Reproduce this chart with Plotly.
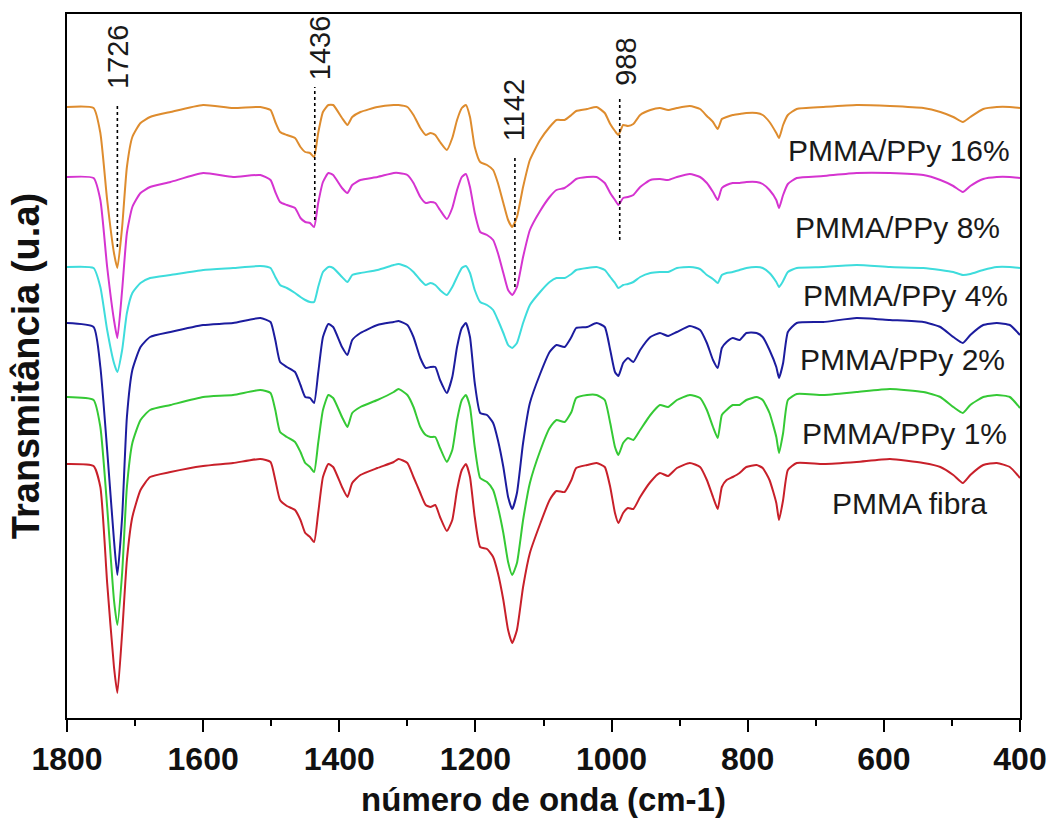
import plotly.graph_objects as go

# Wavenumber grid (cm-1) at which the spectra were read
wavenumber = [1800, 1761, 1751, 1741, 1731, 1726, 1719, 1712, 1704, 1692, 1678, 1648, 1600, 1556, 1516,
              1501, 1494, 1487, 1477, 1465, 1457, 1450, 1443, 1437, 1431, 1424, 1416, 1409, 1396, 1388,
              1381, 1369, 1344, 1320, 1313, 1300, 1291, 1281, 1273, 1266, 1259, 1252, 1242, 1234, 1227,
              1220, 1214, 1208, 1201, 1193, 1183, 1174, 1167, 1159, 1152, 1146, 1139, 1130, 1120, 1105,
              1091, 1081, 1069, 1059, 1052, 1036, 1022, 1010, 1002, 995, 990, 983, 976, 968, 958,
              943, 929, 917, 904, 885, 870, 860, 851, 844, 838, 831, 822, 812, 802, 787,
              778, 768, 758, 754, 748, 741, 728, 689, 640, 591, 542, 517, 498, 484, 473,
              454, 434, 415, 400]

# Depth readings (a.u., larger = lower transmittance); converted to transmittance below
depth_pmma_fibra = [464, 466, 487, 583, 667, 693, 633, 560, 517, 490, 477, 472, 466, 463, 459,
                    462, 480, 500, 506, 510, 520, 533, 537, 542, 513, 477, 464, 467, 487, 497,
                    483, 475, 468, 462, 459, 463, 477, 493, 505, 507, 505, 517, 531, 520, 490,
                    470, 464, 477, 517, 547, 549, 557, 573, 600, 630, 643, 630, 587, 553, 524,
                    500, 491, 492, 480, 468, 465, 463, 467, 487, 513, 523, 513, 508, 509, 497,
                    482, 473, 476, 468, 463, 467, 480, 497, 509, 487, 480, 477, 473, 467, 465,
                    468, 480, 503, 520, 500, 470, 463, 464, 462, 459, 463, 467, 475, 483, 475,
                    465, 463, 467, 478]

depth_ppy_1 = [397, 400, 427, 507, 600, 625, 573, 487, 443, 420, 410, 405, 397, 395, 390,
               393, 410, 432, 437, 442, 452, 463, 467, 472, 443, 410, 395, 398, 417, 427,
               413, 407, 400, 392, 389, 395, 407, 427, 435, 437, 437, 448, 462, 450, 420,
               400, 395, 407, 447, 478, 482, 490, 507, 533, 562, 575, 563, 520, 483, 451,
               428, 420, 422, 412, 398, 395, 395, 400, 423, 447, 455, 443, 438, 440, 430,
               415, 405, 407, 400, 395, 398, 410, 427, 438, 415, 410, 405, 405, 400, 397,
               400, 413, 437, 453, 433, 400, 394, 395, 392, 389, 392, 397, 407, 413, 405,
               397, 395, 397, 408]

depth_ppy_2 = [323, 327, 367, 450, 540, 575, 517, 417, 370, 347, 337, 332, 325, 323, 318,
               322, 340, 362, 367, 372, 385, 397, 398, 403, 373, 337, 324, 327, 347, 355,
               340, 333, 325, 322, 321, 325, 337, 358, 368, 367, 367, 380, 393, 377, 347,
               328, 323, 337, 383, 413, 415, 423, 440, 467, 497, 509, 493, 443, 403, 374,
               352, 345, 347, 337, 328, 327, 323, 327, 350, 372, 376, 363, 358, 362, 350,
               337, 333, 336, 332, 326, 330, 343, 360, 368, 348, 342, 338, 340, 333, 333,
               337, 350, 367, 378, 363, 332, 323, 322, 318, 320, 322, 327, 337, 343, 335,
               325, 323, 325, 335]

depth_ppy_4 = [267, 268, 287, 330, 363, 372, 350, 313, 293, 283, 278, 275, 270, 268, 266,
               268, 277, 285, 288, 293, 297, 300, 302, 302, 287, 272, 267, 268, 277, 282,
               275, 273, 270, 265, 264, 267, 272, 280, 285, 283, 285, 290, 295, 287, 277,
               268, 266, 273, 290, 302, 305, 310, 320, 333, 345, 348, 343, 323, 305, 292,
               282, 278, 278, 274, 270, 268, 267, 270, 277, 283, 288, 285, 284, 282, 277,
               273, 272, 272, 268, 267, 269, 275, 279, 283, 275, 273, 272, 270, 268, 267,
               268, 273, 282, 287, 281, 272, 268, 267, 265, 267, 268, 270, 272, 275, 274,
               270, 267, 267, 268]

depth_ppy_8 = [177, 178, 200, 267, 320, 338, 290, 233, 207, 193, 187, 182, 173, 177, 175,
               180, 192, 202, 205, 208, 218, 222, 223, 227, 203, 182, 173, 175, 188, 193,
               185, 180, 177, 173, 173, 175, 183, 197, 203, 202, 203, 210, 219, 208, 190,
               177, 174, 187, 213, 232, 235, 240, 253, 273, 290, 295, 287, 257, 230, 211,
               197, 190, 188, 183, 179, 177, 177, 183, 193, 200, 205, 198, 197, 195, 187,
               180, 179, 180, 177, 174, 177, 183, 192, 200, 188, 185, 183, 183, 182, 182,
               184, 190, 200, 208, 195, 184, 178, 176, 173, 173, 175, 180, 186, 192, 186,
               179, 177, 177, 178]

depth_ppy_16 = [107, 108, 133, 200, 253, 268, 227, 167, 137, 123, 117, 112, 105, 108, 107,
                110, 122, 132, 135, 138, 147, 152, 153, 157, 133, 112, 105, 105, 118, 125,
                117, 112, 107, 105, 105, 107, 115, 128, 135, 133, 135, 142, 150, 138, 120,
                108, 105, 117, 147, 162, 165, 170, 183, 203, 220, 227, 217, 187, 160, 140,
                127, 120, 120, 115, 111, 109, 107, 113, 124, 131, 135, 125, 126, 124, 115,
                110, 108, 110, 108, 106, 109, 116, 122, 129, 119, 117, 115, 114, 113, 113,
                115, 122, 133, 138, 125, 115, 109, 107, 105, 106, 108, 112, 117, 122, 117,
                109, 107, 107, 108]

series_names = ["PMMA fibra", "PMMA/PPy 1%", "PMMA/PPy 2%", "PMMA/PPy 4%", "PMMA/PPy 8%", "PMMA/PPy 16%"]
series_depths = [depth_pmma_fibra, depth_ppy_1, depth_ppy_2, depth_ppy_4, depth_ppy_8, depth_ppy_16]

# Marked band positions (cm-1)
peak_labels = ["1726", "1436", "1142", "988"]
peak_positions = [1726, 1436, 1142, 988]

BASE = 720  # converts depth reading to transmittance (a.u.)

colors = ["#C8202A", "#35C935", "#1C1C9E", "#3EDCDC", "#D534D0", "#DE8C2E"]
label_x = [562, 569, 573, 568, 580, 578]
label_y = [217, 287, 361, 425, 493, 570]

peak_label_x = [1725, 1428, 1143, 979]
peak_label_y = [663, 672, 610, 658]
peak_line_top = [617, 633, 563, 622]
peak_line_bottom = [473, 500, 433, 480]

FONT = "Liberation Sans, Arial, sans-serif"

fig = go.Figure()

for name, depth, col in zip(series_names, series_depths, colors):
    fig.add_trace(go.Scatter(
        x=wavenumber, y=[BASE - v for v in depth], mode="lines", name=name,
        line=dict(color=col, width=2, shape="spline", smoothing=0.5), showlegend=False))

for pos, top, bot in zip(peak_positions, peak_line_top, peak_line_bottom):
    fig.add_trace(go.Scatter(
        x=[pos, pos], y=[bot, top], mode="lines",
        line=dict(color="black", width=1.6, dash="dot"), showlegend=False, hoverinfo="skip"))

for name, lx, ly in zip(series_names, label_x, label_y):
    fig.add_annotation(x=lx, y=ly, text=name, showarrow=False, xanchor="center", yanchor="middle",
                       font=dict(family=FONT, size=30, color="#1a1a1a"))

for txt, px, py in zip(peak_labels, peak_label_x, peak_label_y):
    fig.add_annotation(x=px, y=py, text=txt, showarrow=False, textangle=-90,
                       xanchor="center", yanchor="middle",
                       font=dict(family=FONT, size=29, color="#1a1a1a"))

fig.update_layout(
    width=1048, height=820,
    margin=dict(l=67, r=28, t=14, b=102),
    plot_bgcolor="white", paper_bgcolor="white",
)

fig.update_xaxes(
    range=[1800, 400], showgrid=False, zeroline=False, automargin=False,
    showline=True, linecolor="black", linewidth=2, mirror=True,
    ticks="outside", ticklen=12, tickwidth=2, tickcolor="black",
    tickvals=[1800, 1600, 1400, 1200, 1000, 800, 600, 400],
    minor=dict(ticks="outside", ticklen=6, tickwidth=2, tickcolor="black",
               tickvals=[1700, 1500, 1300, 1100, 900, 700, 500]),
    tickfont=dict(family=FONT, size=32, color="#111", weight="bold"),
    title=dict(text="número de onda (cm-1)", standoff=11,
               font=dict(family=FONT, size=33, color="#111", weight="bold")),
)

fig.update_yaxes(
    range=[2, 706], showgrid=False, zeroline=False, automargin=False,
    showline=True, linecolor="black", linewidth=2, mirror=True,
    ticks="", showticklabels=False,
    title=dict(text="Transmitância (u.a)", standoff=14,
               font=dict(family=FONT, size=38, color="#111", weight="bold")),
)

# remove the default page margin so the figure sits at the window's top-left corner
fig.write_html("out.html", config={"displayModeBar": False},
               post_script="document.body.style.margin='0';document.body.style.overflow='hidden';")
